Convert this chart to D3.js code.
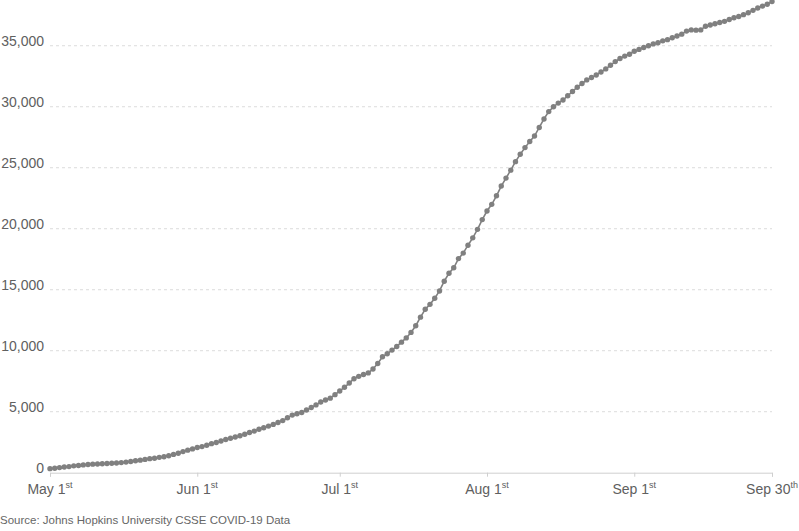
<!DOCTYPE html>
<html>
<head>
<meta charset="utf-8">
<script src="https://cdn.jsdelivr.net/npm/d3@7"></script>
<style>
  html, body { margin: 0; padding: 0; background: #fff; }
  svg { display: block; font-family: "Liberation Sans", Arial, sans-serif; }
</style>
</head>
<body>
<svg id="chart" width="799" height="531"></svg>
<script>
// ---- data ----
const startDate = "2020-05-01";
const endDate = "2020-09-30";
// cumulative values, one per day from May 1st to Sep 30th
const mayValues = [330, 370, 420, 470, 500, 560, 590, 640, 670, 700, 710, 730, 750, 770, 800, 830, 870, 920, 980, 1030, 1090, 1150, 1190, 1260, 1310, 1390, 1500, 1600, 1730, 1850, 1950];
const junValues = [2060, 2140, 2250, 2380, 2480, 2600, 2720, 2820, 2930, 3030, 3150, 3290, 3410, 3560, 3680, 3820, 3960, 4110, 4270, 4500, 4720, 4830, 4940, 5140, 5350, 5560, 5800, 5960, 6110, 6400];
const julValues = [6700, 7000, 7350, 7700, 7900, 8050, 8180, 8500, 8950, 9500, 9750, 10050, 10350, 10700, 11050, 11500, 12050, 12750, 13400, 13800, 14300, 14900, 15700, 16350, 16800, 17550, 18000, 18650, 19250, 19950, 20750];
const augValues = [21450, 22000, 22700, 23500, 24150, 24800, 25500, 26100, 26650, 27150, 27600, 28300, 29000, 29600, 30000, 30300, 30550, 30900, 31250, 31600, 31900, 32200, 32400, 32600, 32850, 33100, 33400, 33700, 33950, 34150, 34300];
const sepValues = [34550, 34700, 34850, 35000, 35150, 35250, 35400, 35500, 35650, 35800, 35950, 36200, 36300, 36280, 36300, 36600, 36700, 36800, 36900, 37000, 37150, 37300, 37400, 37550, 37700, 37900, 38100, 38250, 38400, 38620];
const yTickValues = [0, 5000, 10000, 15000, 20000, 25000, 30000, 35000];
const xTickDates = ["2020-05-01", "2020-06-01", "2020-07-01", "2020-08-01", "2020-09-01", "2020-09-30"];
const xTickLabels = ["May 1", "Jun 1", "Jul 1", "Aug 1", "Sep 1", "Sep 30"];
const xTickSuffixes = ["st", "st", "st", "st", "st", "th"];
const sourceText = "Source: Johns Hopkins University CSSE COVID-19 Data";

// ---- build ----
(function () {
const parse = d3.utcParse("%Y-%m-%d");
const allValues = [].concat(mayValues, junValues, julValues, augValues, sepValues);
const t0 = parse(startDate);
const data = allValues.map((v, i) => ({ date: d3.utcDay.offset(t0, i), value: v }));

const svg = d3.select("#chart");
const mLeft = 50, mRight = 772, mBottom = 472.7, mTop = 0;

const x = d3.scaleUtc().domain([t0, parse(endDate)]).range([mLeft, mRight]);
const y = d3.scaleLinear().domain([0, 38750]).range([mBottom, mTop]);

// grid lines
svg.append("g")
  .selectAll("line")
  .data(yTickValues.filter(v => v > 0))
  .join("line")
  .attr("x1", mLeft).attr("x2", mRight)
  .attr("y1", d => y(d)).attr("y2", d => y(d))
  .attr("stroke", "#dcdcdc")
  .attr("stroke-width", 1)
  .attr("stroke-dasharray", "3,3");

// y labels
svg.append("g")
  .selectAll("text")
  .data(yTickValues)
  .join("text")
  .attr("x", 44)
  .attr("y", d => y(d) + 0.5)
  .attr("text-anchor", "end")
  .attr("font-size", 14)
  .attr("fill", "#606060")
  .text(d => d3.format(",")(d));

// x axis
const xAxis = d3.axisBottom(x)
  .tickValues(xTickDates.map(parse))
  .tickSize(4)
  .tickFormat("");
const gx = svg.append("g")
  .attr("transform", `translate(0,${mBottom})`)
  .call(xAxis);
gx.select(".domain").attr("stroke", "#cfcfcf");
gx.selectAll(".tick line").attr("stroke", "#cfcfcf");

const xl = svg.append("g")
  .selectAll("text")
  .data(xTickDates.map((d, i) => ({ date: parse(d), label: xTickLabels[i], suf: xTickSuffixes[i] })))
  .join("text")
  .attr("x", d => x(d.date))
  .attr("y", 494)
  .attr("text-anchor", "middle")
  .attr("font-size", 14)
  .attr("fill", "#606060");
xl.append("tspan").text(d => d.label);
xl.append("tspan").attr("font-size", 9).attr("dy", -6).text(d => d.suf);

// line
const line = d3.line().x(d => x(d.date)).y(d => y(d.value));
svg.append("path")
  .datum(data)
  .attr("fill", "none")
  .attr("stroke", "#808080")
  .attr("stroke-width", 1.6)
  .attr("d", line);

svg.append("g")
  .selectAll("circle")
  .data(data)
  .join("circle")
  .attr("cx", d => x(d.date))
  .attr("cy", d => y(d.value))
  .attr("r", 2.7)
  .attr("fill", "#808080");

// source
svg.append("text")
  .attr("x", 0)
  .attr("y", 524)
  .attr("font-size", 11.5)
  .attr("fill", "#666")
  .text(sourceText);
})();
</script>
</body>
</html>
